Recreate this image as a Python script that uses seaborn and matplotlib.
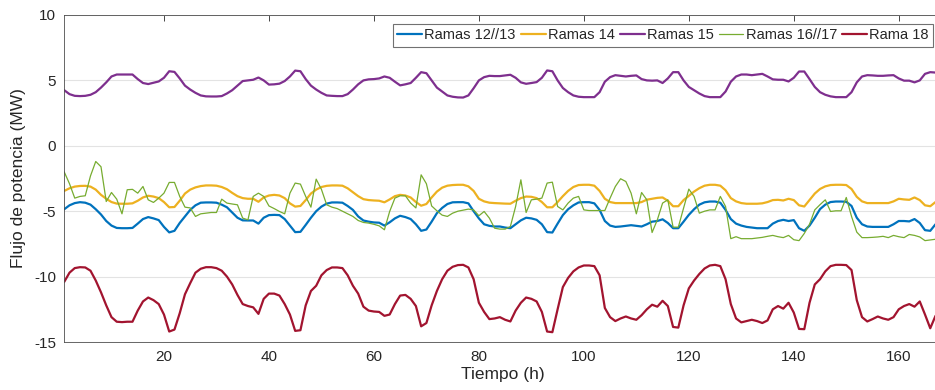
import numpy as np
import pandas as pd
import matplotlib
matplotlib.use("Agg")
import matplotlib.pyplot as plt
import seaborn as sns

# Hourly branch power flows over one week (MW)
hours = list(range(1, 169))

ramas_12_13 = [
    -4.85, -4.55, -4.38, -4.31, -4.35, -4.50, -4.85, -5.25, -5.75, -6.10, -6.28, -6.30,
    -6.30, -6.28, -5.95, -5.60, -5.45, -5.55, -5.68, -6.20, -6.62, -6.50, -5.90, -5.40,
    -4.90, -4.55, -4.35, -4.33, -4.33, -4.35, -4.50, -4.70, -5.10, -5.50, -5.70, -5.71,
    -5.71, -5.95, -5.50, -5.30, -5.28, -5.30, -5.60, -6.10, -6.60, -6.58, -6.05, -5.50,
    -5.00, -4.65, -4.42, -4.33, -4.33, -4.35, -4.60, -4.90, -5.40, -5.71, -5.80, -5.86,
    -5.88, -6.10, -5.85, -5.55, -5.35, -5.45, -5.60, -6.00, -6.50, -6.40, -5.80, -5.15,
    -4.75, -4.45, -4.32, -4.31, -4.31, -4.40, -5.00, -5.55, -6.00, -6.12, -6.17, -6.17,
    -6.25, -6.30, -6.00, -5.70, -5.50, -5.55, -5.66, -6.00, -6.60, -6.63, -5.95, -5.30,
    -4.85, -4.55, -4.33, -4.31, -4.31, -4.40, -4.90, -5.75, -6.10, -6.20, -6.17, -6.12,
    -6.07, -6.12, -6.17, -6.00, -5.80, -5.75, -5.62, -5.90, -6.30, -6.30, -5.80, -5.28,
    -4.85, -4.50, -4.32, -4.26, -4.26, -4.35, -4.90, -5.60, -5.95, -6.10, -6.20, -6.25,
    -6.30, -6.30, -6.30, -5.95, -5.75, -5.66, -5.75, -5.68, -6.30, -6.50, -6.10, -5.50,
    -4.84, -4.50, -4.30, -4.26, -4.26, -4.28, -4.60, -5.50, -6.00, -6.17, -6.20, -6.20,
    -6.20, -6.20, -6.00, -5.75, -5.75, -5.78, -5.60, -5.90, -6.45, -6.50, -6.00, -5.90,
]

ramas_14 = [
    -3.45, -3.25, -3.12, -3.07, -3.06, -3.12, -3.35, -3.75, -4.05, -4.30, -4.42, -4.43,
    -4.43, -4.40, -4.20, -3.95, -3.82, -3.88, -4.00, -4.30, -4.70, -4.68, -4.20, -3.65,
    -3.35, -3.18, -3.08, -3.03, -3.03, -3.05, -3.15, -3.32, -3.60, -3.85, -4.00, -4.05,
    -4.05, -4.28, -3.95, -3.80, -3.75, -3.80, -4.00, -4.40, -4.65, -4.60, -4.15, -3.65,
    -3.35, -3.15, -3.06, -3.03, -3.03, -3.05, -3.25, -3.55, -3.85, -4.08, -4.15, -4.18,
    -4.20, -4.32, -4.10, -3.85, -3.75, -3.80, -3.95, -4.30, -4.58, -4.45, -3.95, -3.50,
    -3.20, -3.05, -3.00, -2.98, -2.98, -3.10, -3.45, -4.05, -4.25, -4.35, -4.38, -4.40,
    -4.42, -4.43, -4.20, -4.00, -3.88, -3.90, -4.00, -4.30, -4.70, -4.70, -4.30, -3.85,
    -3.45, -3.15, -3.00, -2.98, -2.98, -3.05, -3.45, -4.05, -4.30, -4.38, -4.38, -4.38,
    -4.38, -4.38, -4.30, -4.12, -4.05, -3.98, -3.95, -4.20, -4.62, -4.62, -4.15, -3.82,
    -3.50, -3.24, -3.05, -2.98, -2.98, -3.05, -3.40, -4.00, -4.25, -4.38, -4.43, -4.43,
    -4.43, -4.40, -4.30, -4.15, -4.13, -4.18, -4.05, -4.15, -4.55, -4.64, -4.15, -3.65,
    -3.30, -3.10, -3.00, -2.98, -2.98, -3.00, -3.30, -3.90, -4.25, -4.38, -4.38, -4.38,
    -4.38, -4.38, -4.25, -4.05, -4.10, -4.13, -3.95, -4.15, -4.55, -4.62, -4.30, -4.20,
]

ramas_15 = [
    4.25, 3.95, 3.82, 3.80, 3.82, 3.90, 4.10, 4.45, 4.85, 5.30, 5.45, 5.45,
    5.45, 5.45, 5.10, 4.80, 4.72, 4.82, 4.92, 5.20, 5.70, 5.65, 5.15, 4.60,
    4.30, 4.05, 3.85, 3.78, 3.77, 3.77, 3.80, 4.00, 4.25, 4.60, 4.95, 5.00,
    5.05, 5.22, 5.00, 4.68, 4.70, 4.75, 4.95, 5.30, 5.75, 5.70, 5.10, 4.60,
    4.30, 4.05, 3.85, 3.82, 3.80, 3.80, 3.95, 4.30, 4.70, 5.00, 5.08, 5.10,
    5.15, 5.30, 5.20, 4.90, 4.62, 4.70, 4.80, 5.20, 5.63, 5.55, 5.00, 4.45,
    4.15, 3.85, 3.75, 3.70, 3.69, 3.85, 4.40, 5.00, 5.25, 5.35, 5.33, 5.33,
    5.38, 5.43, 5.20, 4.85, 4.74, 4.80, 4.87, 5.20, 5.76, 5.70, 5.00, 4.42,
    4.10, 3.85, 3.75, 3.72, 3.72, 3.72, 4.10, 4.90, 5.25, 5.40, 5.35, 5.30,
    5.35, 5.38, 5.10, 5.00, 4.98, 5.00, 4.80, 5.15, 5.63, 5.63, 5.00, 4.50,
    4.25, 4.00, 3.80, 3.72, 3.72, 3.72, 4.15, 4.90, 5.30, 5.45, 5.45, 5.40,
    5.45, 5.50, 5.30, 5.08, 5.05, 5.05, 4.92, 5.20, 5.68, 5.68, 5.10, 4.50,
    4.10, 3.90, 3.78, 3.72, 3.72, 3.72, 4.10, 4.85, 5.30, 5.40, 5.38, 5.35,
    5.35, 5.38, 5.40, 5.15, 4.98, 4.98, 4.85, 5.00, 5.50, 5.63, 5.60, 5.20,
]

ramas_16_17 = [
    -2.00, -2.90, -4.00, -3.87, -3.82, -2.30, -1.20, -1.60, -4.26, -3.57, -4.08, -5.20,
    -3.36, -3.33, -3.62, -3.11, -4.13, -4.33, -4.00, -3.62, -2.80, -2.80, -3.87, -4.69,
    -4.75, -5.40, -5.20, -5.15, -5.10, -5.10, -4.08, -4.38, -4.45, -4.51, -5.53, -5.66,
    -3.87, -3.62, -3.87, -4.60, -4.80, -5.02, -5.20, -3.62, -2.85, -2.93, -3.87, -4.69,
    -2.55, -3.33, -4.51, -4.69, -4.80, -5.00, -5.20, -5.40, -5.71, -5.86, -5.91, -6.00,
    -6.12, -6.42, -5.02, -4.00, -3.82, -3.82, -4.38, -4.75, -2.22, -2.90, -4.60, -4.97,
    -5.30, -5.40, -5.15, -5.00, -4.92, -4.84, -4.90, -5.35, -5.02, -5.53, -6.30, -6.37,
    -6.37, -6.17, -4.64, -2.60, -5.10, -4.13, -4.08, -4.00, -2.85, -2.78, -4.64, -4.90,
    -4.38, -4.00, -3.87, -4.90, -4.95, -4.95, -4.95, -4.95, -4.00, -3.11, -2.52, -2.73,
    -3.62, -5.20, -3.57, -4.13, -6.63, -5.66, -4.38, -4.13, -6.22, -6.22, -4.75, -3.31,
    -3.87, -5.15, -5.00, -4.90, -4.90, -3.87, -4.64, -7.10, -6.95, -7.10, -7.10, -7.10,
    -7.05, -7.00, -6.92, -6.85, -6.95, -7.02, -6.85, -7.18, -7.25, -6.70, -6.00, -4.90,
    -4.50, -4.13, -5.02, -4.97, -4.97, -3.95, -5.40, -6.60, -7.02, -7.02, -7.00, -6.97,
    -6.92, -7.02, -6.85, -6.95, -7.02, -6.78, -6.85, -6.97, -7.25, -7.20, -7.15, -7.05,
]

rama_18 = [
    -10.40, -9.70, -9.35, -9.28, -9.30, -9.55, -10.30, -11.20, -12.20, -13.10, -13.45, -13.48,
    -13.45, -13.45, -12.60, -11.90, -11.60, -11.80, -12.10, -12.90, -14.20, -14.05, -12.80, -11.35,
    -10.50, -9.70, -9.40, -9.28, -9.28, -9.35, -9.55, -10.00, -10.60, -11.40, -12.10, -12.25,
    -12.35, -12.85, -11.70, -11.30, -11.30, -11.45, -12.10, -12.90, -14.15, -14.10, -12.20, -11.10,
    -10.70, -9.90, -9.50, -9.30, -9.30, -9.35, -9.90, -10.70, -11.30, -12.30, -12.60, -12.67,
    -12.70, -13.00, -12.90, -12.10, -11.45, -11.40, -11.70, -12.25, -13.80, -13.55, -12.20, -11.10,
    -10.20, -9.55, -9.25, -9.12, -9.10, -9.30, -10.20, -12.00, -12.70, -13.25, -13.20, -13.10,
    -13.30, -13.43, -12.60, -12.00, -11.60, -11.70, -11.90, -12.70, -14.20, -14.25, -12.50, -10.80,
    -10.10, -9.60, -9.30, -9.15, -9.15, -9.20, -9.90, -12.40, -13.10, -13.40, -13.20, -13.05,
    -13.20, -13.30, -12.95, -12.50, -12.15, -12.30, -11.85, -12.25, -13.85, -13.90, -12.20, -10.90,
    -10.30, -9.80, -9.38, -9.15, -9.10, -9.20, -10.20, -12.10, -13.20, -13.50, -13.40, -13.30,
    -13.40, -13.55, -13.35, -12.50, -12.25, -12.45, -12.00, -12.75, -14.00, -14.02, -12.00, -10.60,
    -10.20, -9.60, -9.20, -9.10, -9.10, -9.12, -9.50, -11.80, -13.10, -13.43, -13.25, -13.05,
    -13.20, -13.30, -13.10, -12.50, -12.25, -12.10, -12.30, -11.90, -12.90, -13.95, -13.00, -12.80,
]

series_names = ["Ramas 12//13", "Ramas 14", "Ramas 15", "Ramas 16//17", "Rama 18"]
series_values = [ramas_12_13, ramas_14, ramas_15, ramas_16_17, rama_18]
series_colors = ["#0072BD", "#EDB120", "#7E2F8E", "#77AC30", "#A2142F"]
series_widths = [1.6, 1.6, 1.6, 0.9, 1.6]

x_ticks = [20, 40, 60, 80, 100, 120, 140, 160]
y_ticks = [-15, -10, -5, 0, 5, 10]

sns.set_theme(style="white")
plt.rcParams["font.family"] = ["Liberation Sans", "DejaVu Sans"]
plt.rcParams["axes.unicode_minus"] = False

fig = plt.figure(figsize=(9.35, 3.9), dpi=100)
ax = fig.add_axes([64.25 / 935, 48 / 390, 876.5 / 935, 327 / 390])

for name, vals, col, lw in zip(series_names, series_values, series_colors, series_widths):
    df = pd.DataFrame({"Tiempo": hours, "Flujo": vals})
    sns.lineplot(data=df, x="Tiempo", y="Flujo", ax=ax, color=col,
                 linewidth=lw, label=name)

ax.set_xlim(1, 168)
ax.set_ylim(-15, 10)
ax.set_xticks(x_ticks)
ax.set_yticks(y_ticks)
ax.set_xticklabels([str(t) for t in x_ticks])
ax.set_yticklabels([str(t) for t in y_ticks])

ax.yaxis.grid(True, color="#e3e3e3", linewidth=0.8)
ax.xaxis.grid(False)
ax.set_axisbelow(True)

for side in ["left", "bottom", "top", "right"]:
    ax.spines[side].set_color("#4d4d4d")
    ax.spines[side].set_linewidth(0.6)

ax.tick_params(axis="both", direction="in", length=4.5, width=0.6,
               colors="#262626", labelsize=11, top=True, right=True,
               labeltop=False, labelright=False, pad=6)

ax.set_xlabel("Tiempo (h)", fontsize=12.5, color="#262626", labelpad=2)
ax.set_ylabel("Flujo de potencia (MW)", fontsize=12.5, color="#262626", labelpad=6)

leg = ax.legend(loc="upper right", bbox_to_anchor=(933 / 935, 1 - 24 / 390),
                bbox_transform=fig.transFigure, ncol=5, frameon=True,
                fancybox=False, fontsize=10.5, handlelength=1.7, handletextpad=0.15,
                columnspacing=0.35, borderpad=0.3, borderaxespad=0.0)
leg.get_frame().set_edgecolor("#4d4d4d")
leg.get_frame().set_linewidth(0.8)
for t in leg.get_texts():
    t.set_color("#262626")

fig.savefig("out.png", dpi=100)
